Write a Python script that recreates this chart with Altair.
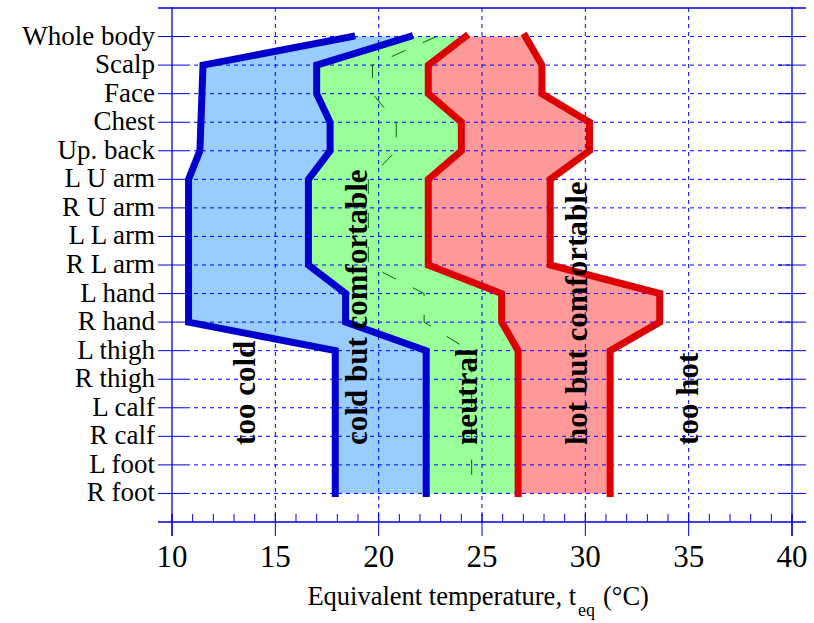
import altair as alt
import pandas as pd

# ---------------- data ----------------
parts = ["Whole body", "Scalp", "Face", "Chest", "Up. back", "L U arm", "R U arm",
         "L L arm", "R L arm", "L hand", "R hand", "L thigh", "R thigh", "L calf",
         "R calf", "L foot", "R foot"]
# too cold | cold but comfortable boundary
cold_limit = [18.7, 11.5, 11.45, 11.4, 11.35, 10.8, 10.8, 10.8, 10.8, 10.8, 10.8,
              17.9, 17.9, 17.9, 17.9, 17.9, 17.9]
# cold but comfortable | neutral boundary
cool_limit = [21.5, 17.0, 17.0, 17.65, 17.65, 16.6, 16.6, 16.6, 16.6, 18.4, 18.4,
              22.3, 22.3, 22.3, 22.3, 22.3, 22.3]
# neutral (dashed)
neutral = [22.8, 19.7, 19.7, 20.85, 20.85, 19.5, 19.5, 19.5, 19.5, 22.2, 22.2,
           24.4, 24.5, 24.5, 24.5, 24.5, 24.5]
# neutral | hot but comfortable boundary
warm_limit = [24.2, 22.4, 22.4, 24.0, 24.0, 22.4, 22.4, 22.4, 22.4, 25.95, 25.95,
              26.75, 26.75, 26.75, 26.75, 26.75, 26.75]
# hot but comfortable | too hot boundary
hot_limit = [27.1, 27.9, 27.9, 30.2, 30.2, 28.3, 28.3, 28.3, 28.3, 33.6, 33.6,
             31.2, 31.2, 31.2, 31.2, 31.2, 31.2]

zone_labels = ["too cold", "cold but comfortable", "neutral", "hot but comfortable", "too hot"]
zone_label_x = [14.02, 19.42, 24.74, 30.07, 35.45]
zone_label_y = [14.3, 14.3, 14.3, 14.3, 14.3]

x_major = [10, 15, 20, 25, 30, 35, 40]
x_grid = [15, 20, 25, 30, 35]
x_minor = list(range(10, 41))

# ---------------- styling ----------------
W, H = 620, 514
BLUE = "#0000DD"
GRID = "#0000FF"
SERIF = "Liberation Serif"

idx = list(range(len(parts)))
n = len(parts)

xs = alt.Scale(domain=[10, 40], nice=False, zero=False)
ys = alt.Scale(domain=[-1, 17], reverse=True, nice=False, zero=False)

fill_df = pd.DataFrame({
    "idx": idx * 3,
    "lo": cold_limit + cool_limit + warm_limit,
    "hi": cool_limit + warm_limit + hot_limit,
    "band": ["cold"] * n + ["neutral"] * n + ["warm"] * n,
})

line_df = pd.DataFrame({
    "idx": idx * 4,
    "val": cold_limit + cool_limit + warm_limit + hot_limit,
    "series": ["c1"] * n + ["c2"] * n + ["w1"] * n + ["w2"] * n,
})

neutral_df = pd.DataFrame({"idx": idx, "val": neutral})
label_df = pd.DataFrame({"label": zone_labels, "x": zone_label_x, "y": zone_label_y})
rows_df = pd.DataFrame({"idx": idx, "part": parts})
grid_rows_df = pd.DataFrame({"gidx": idx})
vgrid_df = pd.DataFrame({"x": x_grid})
major_df = pd.DataFrame({"x": x_major, "lab": [str(v) for v in x_major]})
minor_df = pd.DataFrame({"x": x_minor})
one = pd.DataFrame({"a": [0]})

X = lambda f: alt.X(f, scale=xs, axis=None)
Y = lambda f: alt.Y(f, scale=ys, axis=None)

fills = alt.Chart(fill_df).mark_area(orient="horizontal", opacity=1).encode(
    x=X("lo:Q"),
    x2="hi:Q",
    y=Y("idx:Q"),
    fill=alt.Fill("band:N", scale=alt.Scale(domain=["cold", "neutral", "warm"],
                                            range=["#99CCFF", "#99FF99", "#FF9999"]),
                  legend=None),
)

vgrid = alt.Chart(vgrid_df).mark_rule(strokeWidth=1, strokeDash=[4, 4]).encode(
    x=X("x:Q"), y=alt.value(0), y2=alt.value(H), stroke=alt.value(GRID))

hgrid = alt.Chart(grid_rows_df).mark_rule(strokeWidth=1, strokeDash=[4, 4]).encode(
    y=Y("gidx:Q"), x=alt.value(14), x2=alt.value(W), stroke=alt.value(GRID))

neutral_line = alt.Chart(neutral_df).mark_line(
    strokeWidth=1, strokeDash=[15, 19]).encode(
    x=X("val:Q"), y=Y("idx:Q"), order="idx:Q", stroke=alt.value("#006400"))

bounds = alt.Chart(line_df).mark_line(
    strokeWidth=7, strokeJoin="miter", strokeCap="square").encode(
    x=X("val:Q"),
    y=Y("idx:Q"),
    stroke=alt.Stroke("series:N", scale=alt.Scale(domain=["c1", "c2", "w1", "w2"],
                                                  range=["#0000CC", "#0000CC", "#DD0000", "#DD0000"]),
                      legend=None),
    detail="series:N",
    order="idx:Q")

labels = alt.Chart(label_df).mark_text(
    angle=270, align="left", baseline="alphabetic", font=SERIF,
    fontWeight="bold", fontSize=31, color="black").encode(
    x=X("x:Q"), y=Y("y:Q"), text="label:N")

# ticks (crossing the frame) drawn from the scales
y_ticks_l = alt.Chart(rows_df).mark_rule(color=BLUE, strokeWidth=1).encode(
    y=Y("idx:Q"), x=alt.value(-14), x2=alt.value(14))
y_ticks_r = alt.Chart(rows_df).mark_rule(color=BLUE, strokeWidth=1).encode(
    y=Y("idx:Q"), x=alt.value(W - 14), x2=alt.value(W + 14))
x_ticks_major = alt.Chart(major_df).mark_rule(color=BLUE, strokeWidth=1).encode(
    x=X("x:Q"), y=alt.value(H - 8), y2=alt.value(H + 14))
x_ticks_minor = alt.Chart(minor_df).mark_rule(color=BLUE, strokeWidth=1).encode(
    x=X("x:Q"), y=alt.value(H - 8), y2=alt.value(H))

# tick labels
y_labels = alt.Chart(rows_df).mark_text(
    align="right", baseline="middle", font=SERIF, fontSize=27, color="black").encode(
    y=Y("idx:Q"), x=alt.value(-17), text="part:N")
x_labels = alt.Chart(major_df).mark_text(
    align="center", baseline="alphabetic", font=SERIF, fontSize=31, color="black").encode(
    x=X("x:Q"), y=alt.value(559), text="lab:N")

# frame
top_f = alt.Chart(one).mark_rule(color=BLUE, strokeWidth=1.3).encode(
    y=alt.value(0), x=alt.value(-14), x2=alt.value(W + 14))
bot_f = alt.Chart(one).mark_rule(color=BLUE, strokeWidth=1.3).encode(
    y=alt.value(H), x=alt.value(-14), x2=alt.value(W + 14))
left_f = alt.Chart(one).mark_rule(color=BLUE, strokeWidth=1.3).encode(
    x=alt.value(0), y=alt.value(-1), y2=alt.value(H + 14))
right_f = alt.Chart(one).mark_rule(color=BLUE, strokeWidth=1.3).encode(
    x=alt.value(W), y=alt.value(-1), y2=alt.value(H + 14))

# axis title with subscript
title_main = alt.Chart(one).mark_text(
    align="right", baseline="alphabetic", font=SERIF, fontSize=26.5, color="black").encode(
    x=alt.value(404), y=alt.value(597), text=alt.value("Equivalent temperature, t"))
title_sub = alt.Chart(one).mark_text(
    align="left", baseline="alphabetic", font=SERIF, fontSize=18, color="black").encode(
    x=alt.value(406), y=alt.value(608), text=alt.value("eq"))
title_unit = alt.Chart(one).mark_text(
    align="left", baseline="alphabetic", font=SERIF, fontSize=26.5, color="black").encode(
    x=alt.value(431), y=alt.value(597), text=alt.value("(°C)"))

chart = alt.layer(
    fills, vgrid, hgrid, neutral_line, bounds, labels,
    y_ticks_l, y_ticks_r, x_ticks_major, x_ticks_minor, y_labels, x_labels,
    top_f, bot_f, left_f, right_f,
    title_main, title_sub, title_unit,
).properties(
    width=W, height=H,
    padding={"left": 172, "top": 8, "right": 22, "bottom": 101},
    autosize=alt.AutoSizeParams(type="none"),
    background="white",
).configure_view(stroke=None)

chart.save("out.html", embed_options={"renderer": "svg", "actions": False})
